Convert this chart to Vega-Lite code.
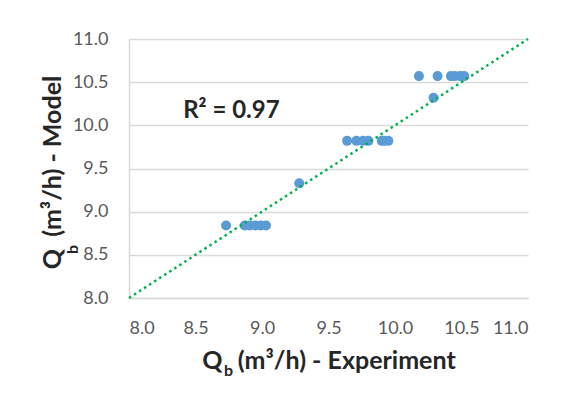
{
  "$schema": "https://vega.github.io/schema/vega-lite/v6.json",
  "width": 399,
  "height": 259,
  "autosize": "none",
  "padding": {"left": 129, "top": 39, "right": 44, "bottom": 100},
  "background": "white",
  "config": {
    "view": {"stroke": null},
    "font": "Lato",
    "axis": {
      "labelFont": "Lato",
      "labelFontSize": 18,
      "labelColor": "#595959",
      "titleFont": "Lato",
      "titleFontSize": 25,
      "titleFontWeight": "bold",
      "titleColor": "#262626",
      "ticks": false,
      "tickSize": 0,
      "domainColor": "#d9d9d9",
      "domainWidth": 1.5,
      "gridColor": "#d9d9d9",
      "gridWidth": 1.5
    }
  },
  "datasets": {
    "points": [
      {"experiment": 8.73, "model": 8.84},
      {"experiment": 8.87, "model": 8.84},
      {"experiment": 8.91, "model": 8.84},
      {"experiment": 8.95, "model": 8.84},
      {"experiment": 8.99, "model": 8.84},
      {"experiment": 9.03, "model": 8.84},
      {"experiment": 9.28, "model": 9.33},
      {"experiment": 9.64, "model": 9.82},
      {"experiment": 9.71, "model": 9.82},
      {"experiment": 9.76, "model": 9.82},
      {"experiment": 9.8, "model": 9.82},
      {"experiment": 9.9, "model": 9.82},
      {"experiment": 9.92, "model": 9.82},
      {"experiment": 9.95, "model": 9.82},
      {"experiment": 10.18, "model": 10.57},
      {"experiment": 10.29, "model": 10.32},
      {"experiment": 10.32, "model": 10.57},
      {"experiment": 10.42, "model": 10.57},
      {"experiment": 10.45, "model": 10.57},
      {"experiment": 10.49, "model": 10.57},
      {"experiment": 10.52, "model": 10.57}
    ],
    "identity": [
      {"experiment": 8.0, "model": 8.0},
      {"experiment": 11.0, "model": 11.0}
    ],
    "fit": [
      {"experiment": 8.77, "model": 10.17, "label": "R² = 0.97"}
    ]
  },
  "resolve": {"axis": {"x": "independent", "y": "independent"}},
  "layer": [
    {
      "data": {"name": "points"},
      "mark": {"type": "circle", "size": 100, "color": "#5b9bd5", "opacity": 1},
      "encoding": {
        "x": {
          "field": "experiment",
          "type": "quantitative",
          "scale": {"domain": [8, 11], "nice": false, "zero": false},
          "axis": {
            "orient": "bottom",
            "values": [8, 8.5, 9, 9.5, 10, 10.5, 11],
            "format": ".1f",
            "grid": false,
            "labelPadding": 21,
            "title": "Q\u00a0\u00a0\u2009(m³/h) - Experiment",
            "titleY": 62,
            "titleBaseline": "middle"
          }
        },
        "y": {
          "field": "model",
          "type": "quantitative",
          "scale": {"domain": [8, 11], "nice": false, "zero": false},
          "axis": {
            "orient": "left",
            "values": [8, 8.5, 9, 9.5, 10, 10.5, 11],
            "format": ".1f",
            "grid": true,
            "labelPadding": 21,
            "title": "Q\u00a0\u00a0(m³/h) - Model",
            "titleX": -77,
            "titleY": 133,
            "titleBaseline": "middle"
          }
        }
      }
    },
    {
      "data": {"name": "identity"},
      "mark": {"type": "line", "color": "#00b050", "strokeWidth": 2.5, "strokeDash": [2.5, 3.5]},
      "encoding": {
        "x": {
          "field": "experiment",
          "type": "quantitative",
          "axis": {
            "orient": "top",
            "labels": false,
            "domain": false,
            "grid": false,
            "title": "b",
            "titleFontSize": 16,
            "titleX": 99,
            "titleY": 331,
            "titleBaseline": "middle",
            "titleAlign": "center"
          }
        },
        "y": {
          "field": "model",
          "type": "quantitative",
          "axis": {
            "orient": "right",
            "labels": false,
            "domain": false,
            "grid": false,
            "title": "b",
            "titleFontSize": 16,
            "titleAngle": -90,
            "titleX": -456,
            "titleY": 210,
            "titleBaseline": "middle",
            "titleAlign": "center"
          }
        }
      }
    },
    {
      "data": {"name": "fit"},
      "mark": {"type": "text", "fontSize": 24, "fontWeight": "bold", "color": "#262626", "font": "Lato"},
      "encoding": {
        "x": {"field": "experiment", "type": "quantitative", "axis": null},
        "y": {"field": "model", "type": "quantitative", "axis": null},
        "text": {"field": "label"}
      }
    }
  ]
}
